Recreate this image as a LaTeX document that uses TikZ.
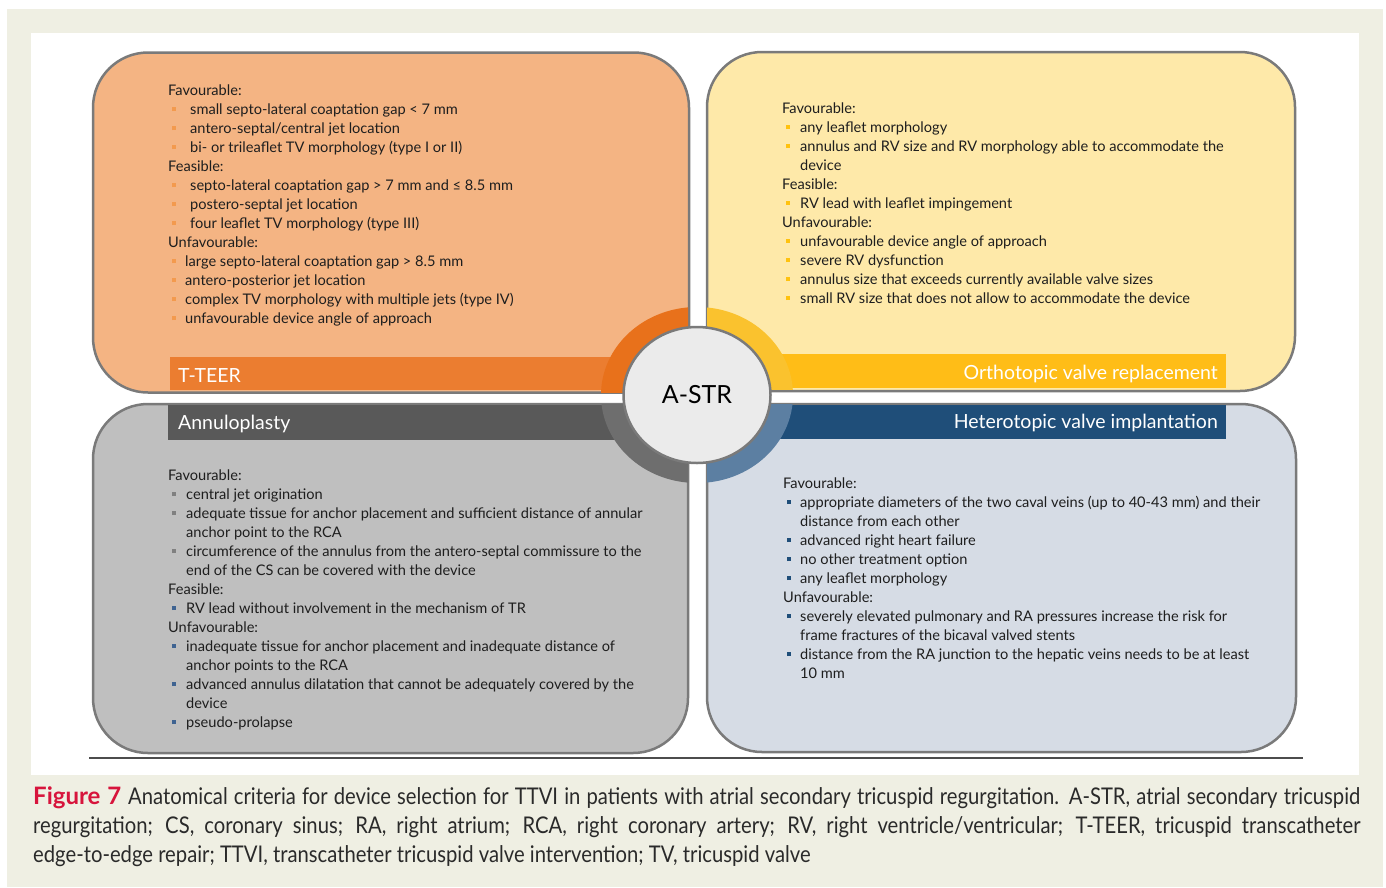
\documentclass[tikz,border=0pt]{standalone}
\usepackage{fontspec}
\setmainfont{Lato}
\newfontfamily\capfont[FakeStretch=0.88]{Lato}
\usetikzlibrary{shapes.geometric}
\definecolor{bgbeige}{HTML}{EFEFE3}
\definecolor{orfill}{HTML}{F4B483}
\definecolor{orbar}{HTML}{EB7D30}
\definecolor{orring}{HTML}{E8711B}
\definecolor{orbul}{HTML}{F39A4E}
\definecolor{yefill}{HTML}{FEE9A9}
\definecolor{yebar}{HTML}{FFBD17}
\definecolor{yering}{HTML}{FAC22E}
\definecolor{yebul}{HTML}{FFC20E}
\definecolor{grfill}{HTML}{BFBFBF}
\definecolor{grbar}{HTML}{595959}
\definecolor{grring}{HTML}{6E6E6E}
\definecolor{grbul}{HTML}{808080}
\definecolor{grbul2}{HTML}{3F6391}
\definecolor{blfill}{HTML}{D6DCE5}
\definecolor{blbar}{HTML}{1F4E79}
\definecolor{blring}{HTML}{5C7FA2}
\definecolor{blbul}{HTML}{1F4E79}
\definecolor{bord}{HTML}{7A7A7A}
\definecolor{figred}{HTML}{D7143C}
\definecolor{txt}{HTML}{1E1E1E}
\definecolor{captxt}{HTML}{2A2A2A}
\definecolor{astrfill}{HTML}{EBEBEB}
\newcommand\ib[2]{\makebox[#2][l]{\hspace*{3.5pt}\textcolor{#1}{\rule[2.8pt]{4.2pt}{4.2pt}}}}
\newcommand\bodyfont{\fontsize{14.6}{19}\selectfont}
\tikzset{
  boxst/.style={draw=bord, line width=2.5pt, rounded corners=55pt, rectangle, inner sep=0pt},
  barst/.style={rectangle, inner sep=0pt, anchor=north west},
  headst/.style={text=white, inner sep=0pt, font=\fontsize{19.5}{20}\selectfont},
  listst/.style={anchor=base west, inner sep=0pt, text=txt}
}
\begin{document}
\begin{tikzpicture}[x=1pt,y=-1pt]
\useasboundingbox (0,0) rectangle (1386,887);
\fill[bgbeige] (7,9) rectangle (1383,887);
\fill[white] (31,33) rectangle (1359,775);
% boxes
\node[boxst, fill=orfill, minimum width=596, minimum height=340] (tbox) at (391,222.5) {};
\node[boxst, fill=yefill, minimum width=588, minimum height=339] (obox) at (1001,221.5) {};
\node[boxst, fill=grfill, minimum width=595, minimum height=349] (abox) at (390.5,578.5) {};
\node[boxst, fill=blfill, minimum width=589, minimum height=348] (hbox) at (1001.5,578) {};
% bars
\node[barst, fill=orbar, minimum width=518, minimum height=33] (tbar) at (170,357) {};
\node[barst, fill=yebar, minimum width=519, minimum height=34] (obar) at (707,354) {};
\node[barst, fill=grbar, minimum width=520, minimum height=35] (abar) at (168,405) {};
\node[barst, fill=blbar, minimum width=519, minimum height=34] (hbar) at (707,405) {};
% rings
\begin{scope}
\clip (0,0) rectangle (688,392);
\fill[orring] (697,395) ellipse [x radius=96, y radius=88];
\end{scope}
\begin{scope}
\clip (707,0) rectangle (1386,389);
\fill[yering] (697,395) ellipse [x radius=96, y radius=88];
\end{scope}
\begin{scope}
\clip (0,404) rectangle (688,887);
\fill[grring] (697,395) ellipse [x radius=96, y radius=88];
\end{scope}
\begin{scope}
\clip (707,404) rectangle (1386,887);
\fill[blring] (697,395) ellipse [x radius=96, y radius=88];
\end{scope}
% centre
\node[ellipse, draw=bord, line width=2.5pt, fill=astrfill, minimum width=147, minimum height=136, inner sep=0pt, font=\fontsize{25}{25}\selectfont] (astr) at (697,395) {A-STR};
% headers
\node[headst, anchor=base west] (thead) at (178,382) {T-TEER};
\node[headst, anchor=base east] (ohead) at (1218,379) {Orthotopic valve replacement};
\node[headst, anchor=base west] (ahead) at (178,429) {Annuloplasty};
\node[headst, anchor=base east] (hhead) at (1218,428) {Heterotopic valve implantation};
% lists
\node[listst] (tlist) at (168,95) {\parbox[t]{520pt}{\bodyfont
Favourable:\\
\ib{orbul}{22pt}small septo-lateral coaptation gap < 7 mm\\
\ib{orbul}{22pt}antero-septal/central jet location\\
\ib{orbul}{22pt}bi- or trileaflet TV morphology (type I or II)\\
Feasible:\\
\ib{orbul}{22pt}septo-lateral coaptation gap > 7 mm and ≤ 8.5 mm\\
\ib{orbul}{22pt}postero-septal jet location\\
\ib{orbul}{22pt}four leaflet TV morphology (type III)\\
Unfavourable:\\
\ib{orbul}{17pt}large septo-lateral coaptation gap > 8.5 mm\\
\ib{orbul}{17pt}antero-posterior jet location\\
\ib{orbul}{17pt}complex TV morphology with multiple jets (type IV)\\
\ib{orbul}{17pt}unfavourable device angle of approach}};
\node[listst] (olist) at (782,113) {\parbox[t]{500pt}{\bodyfont
Favourable:\\
\ib{yebul}{18pt}any leaflet morphology\\
\ib{yebul}{18pt}annulus and RV size and RV morphology able to accommodate the\\
\hspace*{18pt}device\\
Feasible:\\
\ib{yebul}{18pt}RV lead with leaflet impingement\\
Unfavourable:\\
\ib{yebul}{18pt}unfavourable device angle of approach\\
\ib{yebul}{18pt}severe RV dysfunction\\
\ib{yebul}{18pt}annulus size that exceeds currently available valve sizes\\
\ib{yebul}{18pt}small RV size that does not allow to accommodate the device}};
\node[listst] (alist) at (168,480) {\parbox[t]{520pt}{\bodyfont
Favourable:\\
\ib{grbul}{18pt}central jet origination\\
\ib{grbul}{18pt}adequate tissue for anchor placement and sufficient distance of annular\\
\hspace*{18pt}anchor point to the RCA\\
\ib{grbul}{18pt}circumference of the annulus from the antero-septal commissure to the\\
\hspace*{18pt}end of the CS can be covered with the device\\
Feasible:\\
\ib{grbul2}{18pt}RV lead without involvement in the mechanism of TR\\
Unfavourable:\\
\ib{grbul2}{18pt}inadequate tissue for anchor placement and inadequate distance of\\
\hspace*{18pt}anchor points to the RCA\\
\ib{grbul2}{18pt}advanced annulus dilatation that cannot be adequately covered by the\\
\hspace*{18pt}device\\
\ib{grbul2}{18pt}pseudo-prolapse}};
\node[listst] (hlist) at (783,488) {\parbox[t]{520pt}{\bodyfont
Favourable:\\
\ib{blbul}{17pt}appropriate diameters of the two caval veins (up to 40-43 mm) and their\\
\hspace*{17pt}distance from each other\\
\ib{blbul}{17pt}advanced right heart failure\\
\ib{blbul}{17pt}no other treatment option\\
\ib{blbul}{17pt}any leaflet morphology\\
Unfavourable:\\
\ib{blbul}{17pt}severely elevated pulmonary and RA pressures increase the risk for\\
\hspace*{17pt}frame fractures of the bicaval valved stents\\
\ib{blbul}{17pt}distance from the RA junction to the hepatic veins needs to be at least\\
\hspace*{17pt}10 mm}};
% rule
\draw[line width=1.2pt, color=black!70] (89,758) -- (1303,758);
% caption
\node[listst, text=captxt] (caption) at (33,804) {\parbox[t]{1327pt}{\fontsize{23}{29}\selectfont\hyphenpenalty=10000
{\fontsize{24}{29}\selectfont\bfseries\textcolor{figred}{Figure 7}} {\capfont Anatomical criteria for device selection for TTVI in patients with atrial secondary tricuspid regurgitation. A-STR, atrial secondary tricuspid\linebreak
regurgitation; CS, coronary sinus; RA, right atrium; RCA, right coronary artery; RV, right ventricle/ventricular; T-TEER, tricuspid transcatheter\linebreak
edge-to-edge repair; TTVI, transcatheter tricuspid valve intervention; TV, tricuspid valve}}};
\end{tikzpicture}
\end{document}
